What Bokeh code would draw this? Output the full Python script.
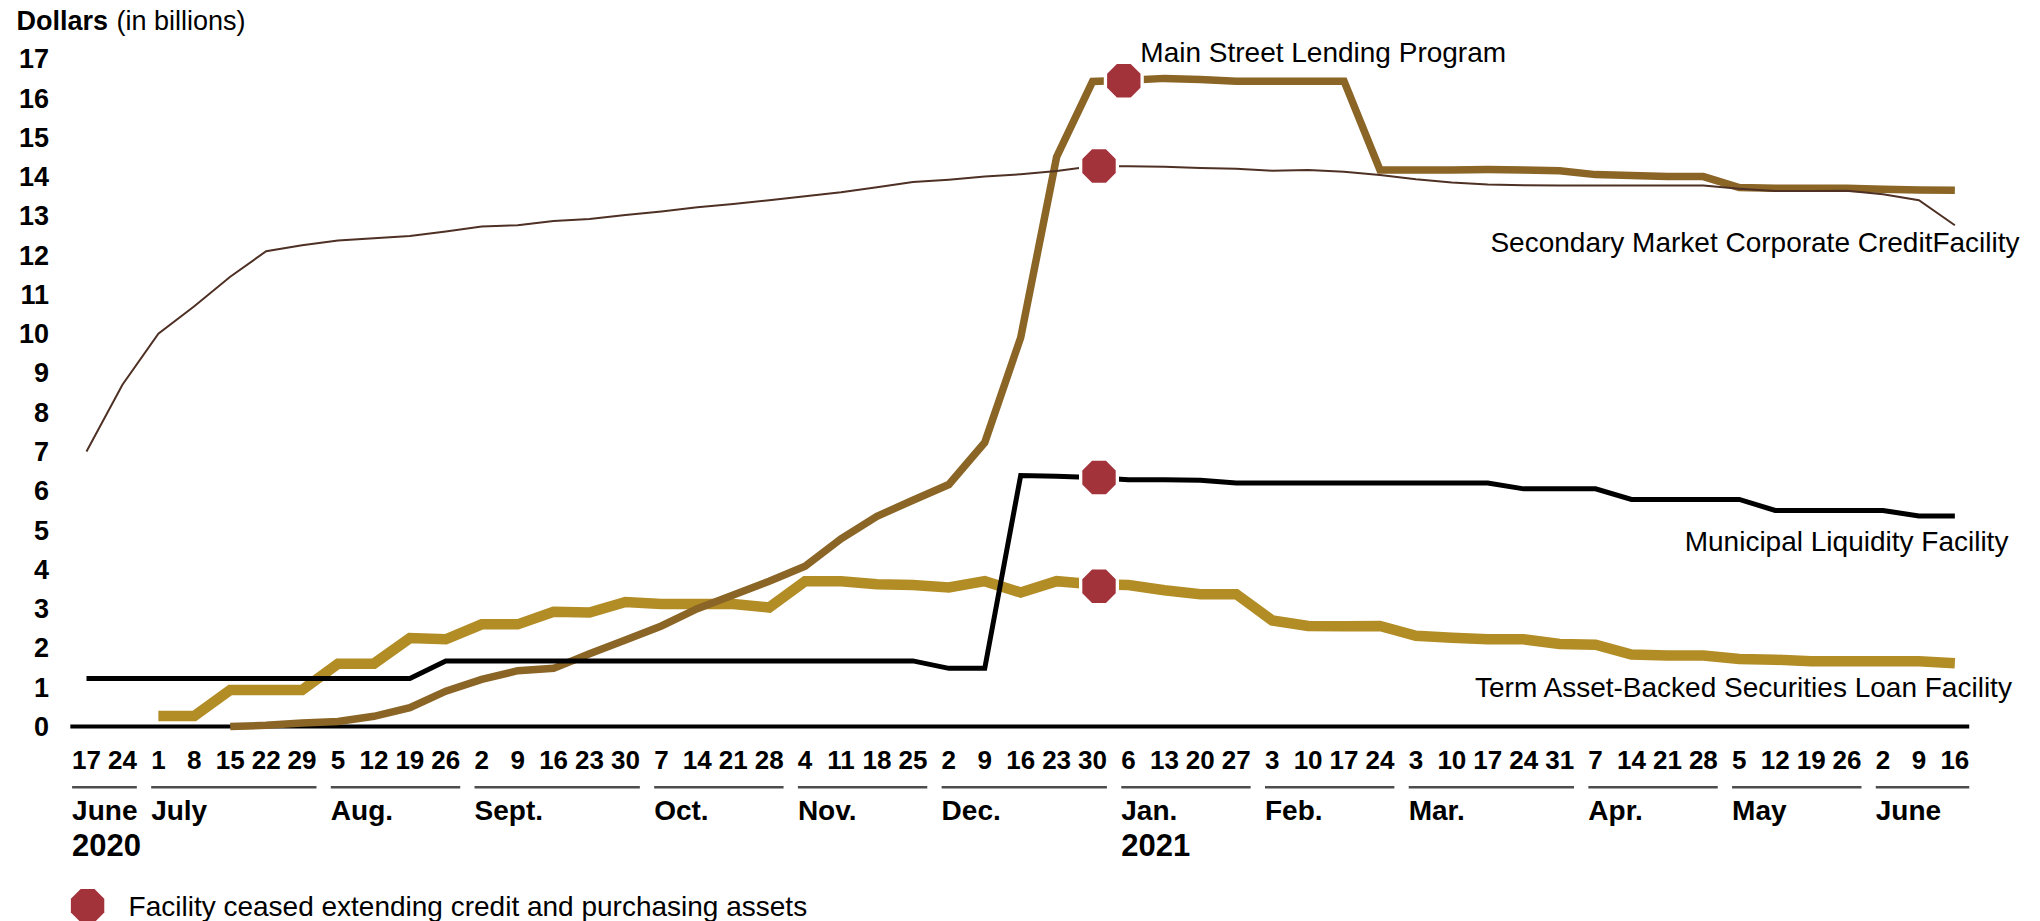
import math
from bokeh.plotting import figure
from bokeh.models import Range1d
from bokeh.core.properties import value
from bokeh.embed import file_html
from bokeh.resources import INLINE

NaN = float("nan")

# ---------------- data ----------------
days = [17, 24,
        1, 8, 15, 22, 29,
        5, 12, 19, 26,
        2, 9, 16, 23, 30,
        7, 14, 21, 28,
        4, 11, 18, 25,
        2, 9, 16, 23, 30,
        6, 13, 20, 27,
        3, 10, 17, 24,
        3, 10, 17, 24, 31,
        7, 14, 21, 28,
        5, 12, 19, 26,
        2, 9, 16]
months = ["June", "July", "Aug.", "Sept.", "Oct.", "Nov.", "Dec.",
          "Jan.", "Feb.", "Mar.", "Apr.", "May", "June"]
month_weeks = [2, 5, 4, 5, 4, 4, 5, 4, 4, 5, 4, 4, 3]
year_labels = ["2020", "2021"]
year_month_index = [0, 7]

# Secondary Market Corporate Credit Facility
smccf = [7.0, 8.7, 10.0, 10.7, 11.45, 12.1, 12.25, 12.37, 12.43, 12.49, 12.6,
         12.73, 12.76, 12.87, 12.92, 13.02, 13.11, 13.22, 13.3, 13.4, 13.5,
         13.6, 13.73, 13.86, 13.92, 14.0, 14.06, 14.14, 14.26, 14.26, 14.25,
         14.22, 14.2, 14.15, 14.17, 14.12, 14.04, 13.93, 13.85, 13.8, 13.78,
         13.77, 13.77, 13.77, 13.77, 13.77, 13.69, 13.63, 13.63, 13.64, 13.55,
         13.4, 12.76]
# Municipal Liquidity Facility
mlf = [1.22, 1.22, 1.22, 1.22, 1.22, 1.22, 1.22, 1.22, 1.22, 1.22, 1.67,
       1.67, 1.67, 1.67, 1.67, 1.67, 1.67, 1.67, 1.67, 1.67, 1.67, 1.67,
       1.67, 1.67, 1.48, 1.48, 6.39, 6.37, 6.34, 6.28, 6.28, 6.27, 6.2,
       6.2, 6.2, 6.2, 6.2, 6.2, 6.2, 6.2, 6.05, 6.05, 6.05, 5.78, 5.78,
       5.78, 5.78, 5.5, 5.5, 5.5, 5.5, 5.36, 5.36]
# Term Asset-Backed Securities Loan Facility
talf = [NaN, NaN, 0.27, 0.27, 0.93, 0.93, 0.93, 1.6, 1.6, 2.25, 2.22, 2.6,
        2.6, 2.92, 2.9, 3.17, 3.12, 3.12, 3.12, 3.03, 3.7, 3.7, 3.62, 3.6,
        3.54, 3.7, 3.41, 3.7, 3.62, 3.6, 3.47, 3.37, 3.37, 2.7, 2.56, 2.55,
        2.56, 2.31, 2.26, 2.22, 2.22, 2.1, 2.08, 1.83, 1.81, 1.81, 1.72,
        1.7, 1.66, 1.66, 1.66, 1.66, 1.61]
# Main Street Lending Program
mslp = [NaN, NaN, NaN, NaN, 0.0, 0.03, 0.09, 0.13, 0.26, 0.48, 0.9, 1.2,
        1.42, 1.48, 1.85, 2.2, 2.56, 3.0, 3.35, 3.7, 4.08, 4.78, 5.35, 5.76,
        6.16, 7.23, 9.9, 14.5, 16.42, 16.45, 16.5, 16.47, 16.43, 16.43,
        16.43, 16.43, 14.17, 14.17, 14.17, 14.18, 14.17, 14.15, 14.05, 14.03,
        14.0, 14.0, 13.72, 13.7, 13.7, 13.7, 13.68, 13.66, 13.65]

# facility ceased extending credit (week position, value)
ceased_week = [28.18, 28.18, 28.18, 28.87]
ceased_value = [14.27, 6.34, 3.57, 16.44]

y_ticks = list(range(0, 18))

series_names = ["Main Street Lending Program",
                "Secondary Market Corporate CreditFacility",
                "Municipal Liquidity Facility",
                "Term Asset-Backed Securities Loan Facility"]
legend_text = "Facility ceased extending credit and purchasing assets"

# ---------------- layout / style ----------------
W, H = 2040, 921
X0_PX, DX_PX = 86.0, 35.93     # canvas x of week 0, px per week
Y0_PX, DY_PX = 726.0, 39.28    # canvas y of value 0, px per billion
FONT = value("Liberation Sans")
GOLD = "#B28C25"
BROWN = "#8A6526"
DARK = "#4E3024"
RED = "#A3333B"
GRAY = "#4D4D4D"

p = figure(width=W, height=H, output_backend="svg", toolbar_location=None,
           x_range=Range1d(-X0_PX / DX_PX, (W - X0_PX) / DX_PX),
           y_range=Range1d(-(H - Y0_PX) / DY_PX, Y0_PX / DY_PX))
p.min_border = 0
p.min_border_left = 0
p.min_border_right = 0
p.min_border_top = 0
p.min_border_bottom = 0
p.axis.visible = False
p.grid.visible = False
p.outline_line_color = None
p.background_fill_color = "white"
p.border_fill_color = "white"

weeks = list(range(len(days)))

# zero line
p.line([weeks[0] - 0.45, weeks[-1] + 0.4], [0, 0], line_color="black", line_width=4)

# series
p.line(weeks, talf, line_color=GOLD, line_width=10.5, line_join="miter")
p.line(weeks, mslp, line_color=BROWN, line_width=7.5, line_join="miter")
p.line(weeks, smccf, line_color=DARK, line_width=2, line_join="miter")
p.line(weeks, mlf, line_color="black", line_width=5, line_join="miter")


def octagon(cx, cy, apothem):
    r = apothem / math.cos(math.radians(22.5))
    xs, ys = [], []
    for k in range(8):
        a = math.radians(22.5 + 45 * k)
        xs.append(cx + r * math.cos(a) / DX_PX)
        ys.append(cy + r * math.sin(a) / DY_PX)
    return xs, ys


halo = [octagon(x, y, 20.0) for x, y in zip(ceased_week, ceased_value)]
p.patches([h[0] for h in halo], [h[1] for h in halo], fill_color="white", line_color=None)
marks = [octagon(x, y, 16.7) for x, y in zip(ceased_week, ceased_value)]
p.patches([m[0] for m in marks], [m[1] for m in marks], fill_color=RED, line_color=None)

# y tick labels
p.text(x=[-1.044] * len(y_ticks), y=y_ticks, text=[str(t) for t in y_ticks],
       text_font=FONT, text_font_size="27px", text_font_style="bold",
       text_align="right", text_baseline="middle", text_color="black")

# axis title
p.text(x=[-1.95], y=[17.97], text=["Dollars"], text_font=FONT, text_font_size="27px",
       text_font_style="bold", text_align="left", text_baseline="middle", text_color="black")
p.text(x=[0.835], y=[17.97], text=["(in billions)"], text_font=FONT, text_font_size="27px",
       text_align="left", text_baseline="middle", text_color="black")

# x tick labels (day of month)
p.text(x=weeks, y=[-0.853] * len(weeks), text=[str(d) for d in days],
       text_font=FONT, text_font_size="26px", text_font_style="bold",
       text_align="center", text_baseline="middle", text_color="black")


def half_w(day):
    return 7.2 * len(str(day)) / DX_PX


# month groups
m_x0, m_x1 = [], []
start = 0
for n in month_weeks:
    first, last = start, start + n - 1
    m_x0.append(first - half_w(days[first]))
    m_x1.append(last + half_w(days[last]))
    start += n
p.segment(x0=m_x0, y0=[-1.545] * len(m_x0), x1=m_x1, y1=[-1.545] * len(m_x1),
          line_color=GRAY, line_width=2.5)
p.text(x=m_x0, y=[-2.14] * len(months), text=months, text_font=FONT,
       text_font_size="28px", text_font_style="bold", text_align="left",
       text_baseline="middle", text_color="black")
p.text(x=[m_x0[i] for i in year_month_index], y=[-3.02] * len(year_labels),
       text=year_labels, text_font=FONT, text_font_size="31px", text_font_style="bold",
       text_align="left", text_baseline="middle", text_color="black")

# series labels
p.text(x=[29.33], y=[17.15], text=[series_names[0]], text_font=FONT, text_font_size="28px",
       text_align="left", text_baseline="middle", text_color="black")
p.text(x=[53.8, 53.49, 53.63], y=[12.32, 4.71, 1.0], text=series_names[1:],
       text_font=FONT, text_font_size="28px", text_align="right",
       text_baseline="middle", text_color="black")

# legend
lx, ly = octagon(0.03, -4.56, 16.7)
p.patch(lx, ly, fill_color=RED, line_color=None)
p.text(x=[1.17], y=[-4.58], text=[legend_text], text_font=FONT, text_font_size="28px",
       text_align="left", text_baseline="middle", text_color="black")

open("out.html", "w").write(file_html(p, INLINE))
